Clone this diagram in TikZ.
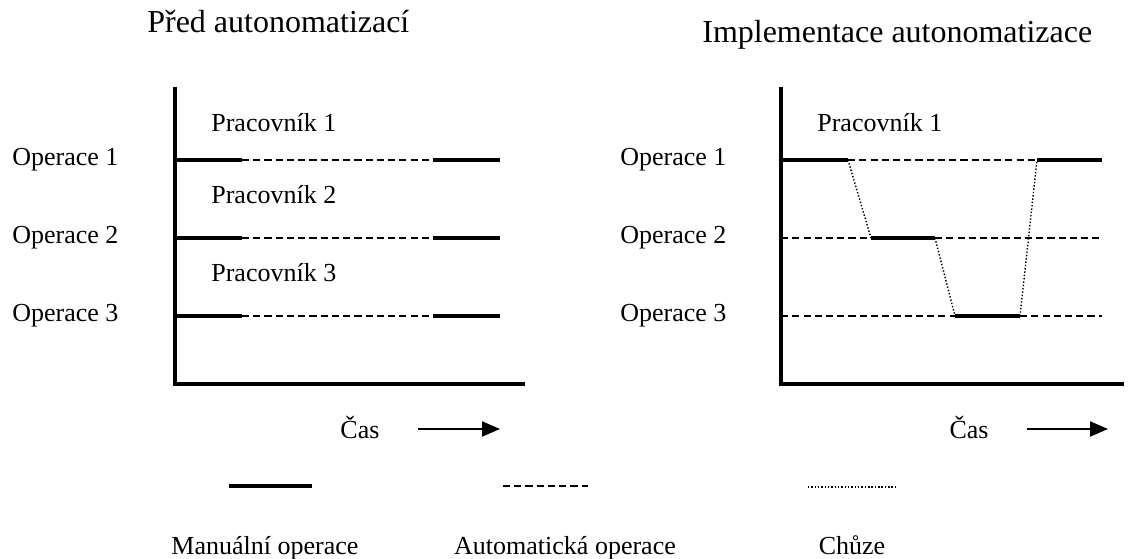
\documentclass[tikz,border=0pt]{standalone}
\usepackage{fontspec}
\setmainfont{Liberation Serif}
\usepackage{tikz}
\usetikzlibrary{arrows.meta,positioning,calc}

\tikzset{
  axis/.style={line width=2.3pt},
  manual/.style={line width=2pt},
  auto/.style={line width=0.8pt,dash pattern=on 4pt off 2.4pt},
  walk/.style={line width=0.8pt,dash pattern=on 0.8pt off 1.1pt},
  lbl/.style={inner sep=0pt,font=\fontsize{14.8}{17}\selectfont},
  ttl/.style={inner sep=0pt,font=\fontsize{18.2}{21}\selectfont}
}

\begin{document}
\begin{tikzpicture}[>={Triangle[length=0.36cm,width=0.3cm]}]
\useasboundingbox (0,0) rectangle (22.6,-11.18);

% titles
\node[ttl,anchor=base west] (t1) at (2.94,-0.66) {Před autonomatizací};
\node[ttl,anchor=base west] (t2) at (14.04,-0.86) {Implementace autonomatizace};

% left chart
\draw[axis] (3.5,-1.74) |- (10.5,-7.68);
\node[lbl,anchor=west] (lo1) at (0.24,-3.2) {Operace 1};
\node[lbl,anchor=west] (lo2) at (0.24,-4.76) {Operace 2};
\node[lbl,anchor=west] (lo3) at (0.24,-6.32) {Operace 3};
\node[lbl,anchor=west] (lw1) at (4.22,-2.46) {Pracovník 1};
\node[lbl,anchor=west] (lw2) at (4.22,-3.9) {Pracovník 2};
\node[lbl,anchor=west] (lw3) at (4.22,-5.46) {Pracovník 3};
\foreach \y in {-3.2,-4.76,-6.32} {
  \draw[manual] (3.5,\y) -- (4.84,\y);
  \draw[auto] (4.84,\y) -- (8.66,\y);
  \draw[manual] (8.66,\y) -- (10.0,\y);
}
\node[lbl] (lcas) at (7.2,-8.54) {Čas};
\coordinate (la0) at (8.36,-8.58);
\coordinate (la1) at (10.0,-8.58);
\draw[->,line width=1.2pt] (la0) -- (la1);

% right chart
\draw[axis] (15.62,-1.74) |- (22.48,-7.68);
\node[lbl,anchor=west] (ro1) at (12.4,-3.2) {Operace 1};
\node[lbl,anchor=west] (ro2) at (12.4,-4.76) {Operace 2};
\node[lbl,anchor=west] (ro3) at (12.4,-6.32) {Operace 3};
\node[lbl,anchor=west] (rw1) at (16.34,-2.46) {Pracovník 1};
\coordinate (a1) at (16.96,-3.2);
\coordinate (b1) at (20.74,-3.2);
\coordinate (a2) at (17.42,-4.76);
\coordinate (b2) at (18.7,-4.76);
\coordinate (a3) at (19.1,-6.32);
\coordinate (b3) at (20.4,-6.32);
\draw[manual] (15.62,-3.2) -- (a1);
\draw[auto] (a1) -- (b1);
\draw[manual] (b1) -- (22.04,-3.2);
\draw[auto] (15.62,-4.76) -- (a2);
\draw[manual] (a2) -- (b2);
\draw[auto] (b2) -- (22.04,-4.76);
\draw[auto] (15.62,-6.32) -- (a3);
\draw[manual] (a3) -- (b3);
\draw[auto] (b3) -- (22.04,-6.32);
\draw[walk] (a1) -- (a2);
\draw[walk] (b2) -- (a3);
\draw[walk] (b3) -- (b1);
\node[lbl] (rcas) at (19.38,-8.54) {Čas};
\coordinate (ra0) at (20.54,-8.58);
\coordinate (ra1) at (22.16,-8.58);
\draw[->,line width=1.2pt] (ra0) -- (ra1);

% legend
\draw[manual] (4.58,-9.72) -- (6.24,-9.72);
\draw[auto] (10.06,-9.72) -- (11.76,-9.72);
\draw[walk] (16.16,-9.74) -- (17.94,-9.74);
\node[lbl,anchor=base] (k1) at (5.3,-11.08) {Manuální operace};
\node[lbl,anchor=base] (k2) at (11.3,-11.08) {Automatická operace};
\node[lbl,anchor=base] (k3) at (17.04,-11.08) {Chůze};
\end{tikzpicture}
\end{document}
